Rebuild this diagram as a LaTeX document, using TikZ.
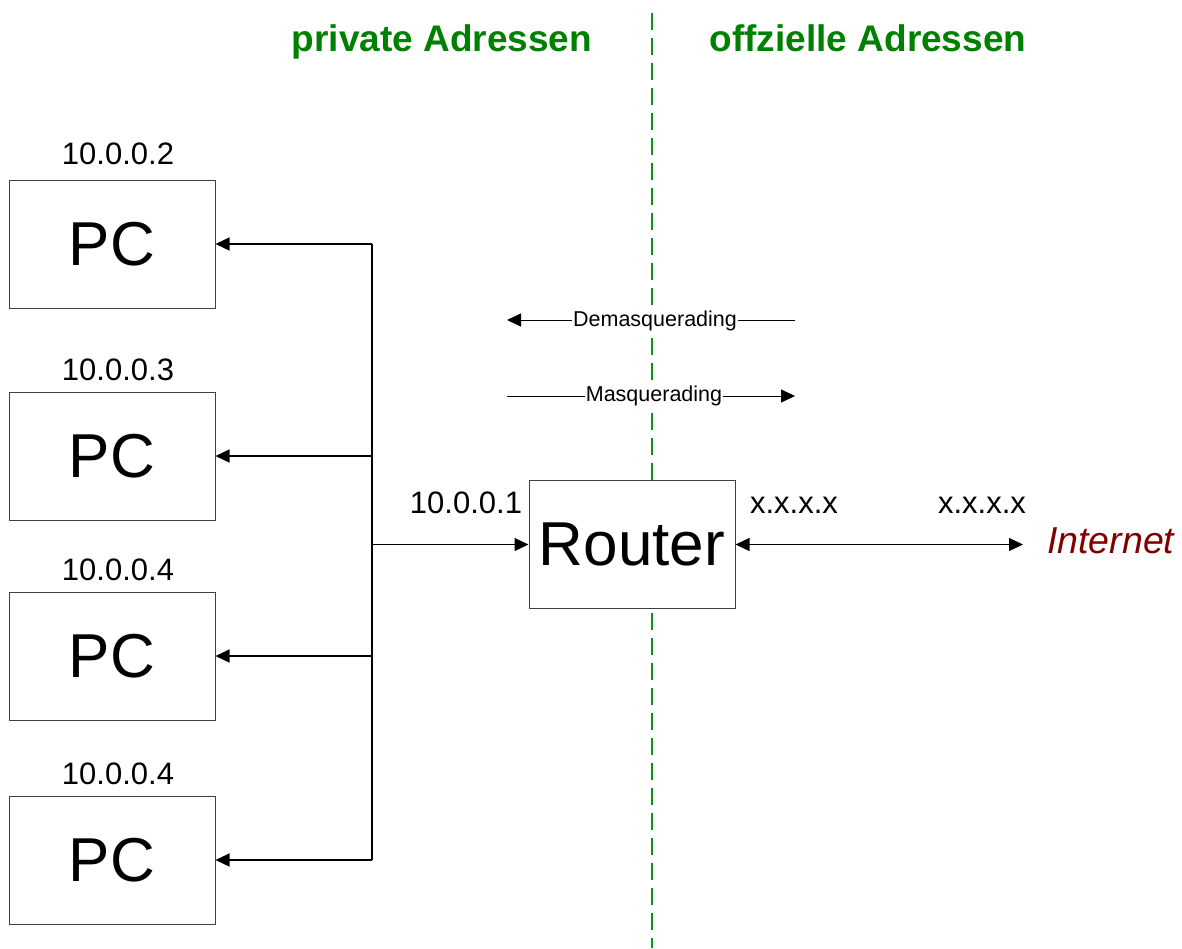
\documentclass[tikz,border=0pt]{standalone}
\usepackage{fontspec}
\setmainfont{Liberation Sans}
\usetikzlibrary{arrows.meta}
\definecolor{titlegreen}{HTML}{008000}
\definecolor{dashgreen}{HTML}{10911A}
\definecolor{inetred}{HTML}{800000}
\begin{document}
\begin{tikzpicture}[x=1pt,y=-1pt,
  box/.style={draw=black!75,line width=1pt,minimum width=206pt,minimum height=128pt,inner sep=0pt,
    font=\fontsize{62}{62}\selectfont},
  iplabel/.style={anchor=base,inner sep=0pt,font=\fontsize{31}{31}\selectfont},
  title/.style={anchor=base,inner sep=0pt,text=titlegreen,font=\fontsize{37}{37}\selectfont\bfseries},
  small/.style={fill=white,inner sep=1pt,anchor=base,font=\fontsize{21.5}{21.5}\selectfont},
  conn/.style={line width=1.2pt,draw=black},
  tri/.tip={Triangle[length=14pt,width=13pt]},
  tip/.style={-tri},
]
\useasboundingbox (0,0) rectangle (1182,948);

% divider
\draw[dashgreen,line width=2pt,dash pattern=on 17pt off 8pt] (652,13) coordinate (dtop) -- (652,948) coordinate (dbot);

% titles
\node[title] (tpriv) at (442,51) {private Adressen};
\node[title] (toff) at (868,51) {offzielle Adressen};

% PCs
\node[box] (pc1) at (112,244) {PC};
\node[box] (pc2) at (112,456) {PC};
\node[box] (pc3) at (112,656) {PC};
\node[box] (pc4) at (112,860) {PC};
\node[iplabel] (ip2) at (118,164) {10.0.0.2};
\node[iplabel] (ip3) at (118,380) {10.0.0.3};
\node[iplabel] (ip4) at (118,580) {10.0.0.4};
\node[iplabel] (ip5) at (118,784) {10.0.0.4};

% Router
\node[box,fill=white] (router) at (632,544.5) {Router};
\node[iplabel] (ip1) at (466,513) {10.0.0.1};
\node[iplabel] (xa) at (794,513) {x.x.x.x};
\node[iplabel] (xb) at (982,513) {x.x.x.x};
\node[anchor=base west,inner sep=0pt,text=inetred,font=\fontsize{37.5}{37.5}\selectfont\itshape] (inet) at (1047,553) {Internet};

% trunk
\coordinate (t1) at (372,244);
\coordinate (t2) at (372,456);
\coordinate (t3) at (372,656);
\coordinate (t4) at (372,860);
\coordinate (tr) at (372,544.5);
\draw[conn] (t1) -- (t4);
\draw[conn,tip] (t1) -- (pc1.east);
\draw[conn,tip] (t2) -- (pc2.east);
\draw[conn,tip] (t3) -- (pc3.east);
\draw[conn,tip] (t4) -- (pc4.east);
\draw[conn,tip] (tr) -- (router.west);

% internet link
\draw[conn,tri-tri,shorten >=24pt] (router.east) -- (router.east -| inet.west);

% masquerading arrows
\coordinate (dmR) at (795,320);
\coordinate (dmL) at (507,320);
\draw[line width=1pt,tip] (dmR) -- (dmL);
\node[small] (dmtxt) at (655,326) {Demasquerading};
\coordinate (mL) at (507,396);
\coordinate (mR) at (795,396);
\draw[line width=1pt,tip] (mL) -- (mR);
\node[small] (mtxt) at (654,401) {Masquerading};
\end{tikzpicture}
\end{document}
